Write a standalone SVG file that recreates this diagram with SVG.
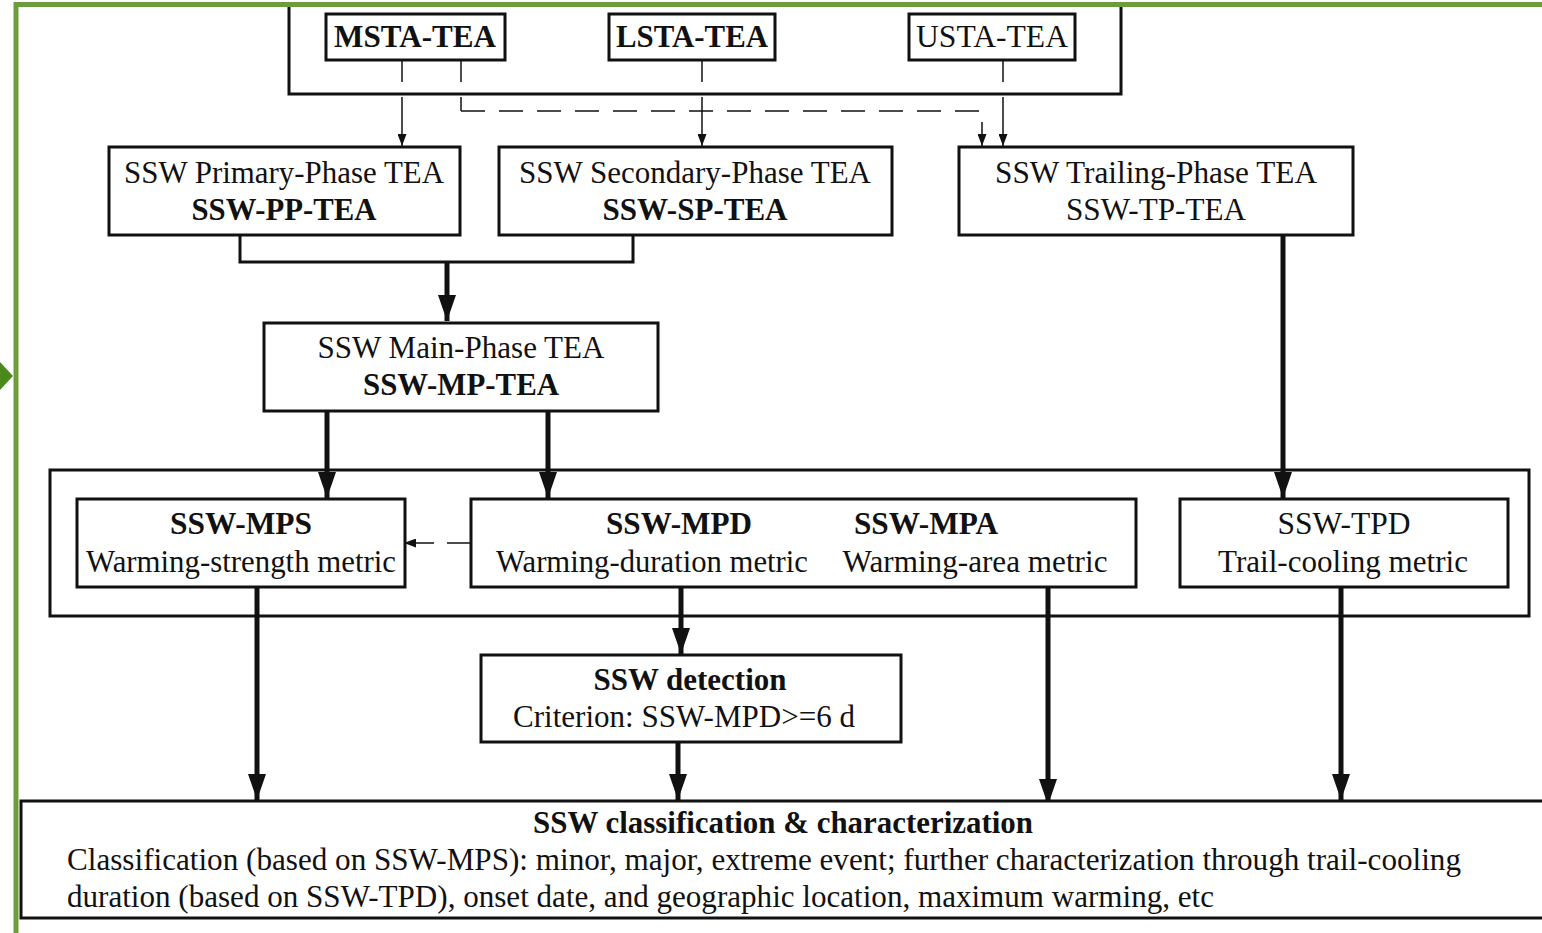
<svg xmlns="http://www.w3.org/2000/svg" width="1542" height="933" viewBox="0 0 1542 933">
<style>
.bx{fill:#fff;stroke:#111;stroke-width:3}
.frame{fill:none;stroke:#111;stroke-width:3}
.t{font-size:31px;fill:#111}
.b{font-weight:bold}
.thin{fill:none;stroke:#111;stroke-width:1.5}
.dash{fill:none;stroke:#111;stroke-width:1.5;stroke-dasharray:24 14}
.thick{fill:none;stroke:#111;stroke-width:5}
.mid{fill:none;stroke:#111;stroke-width:3}
</style>
<defs>
<marker id="big" markerUnits="userSpaceOnUse" markerWidth="26" markerHeight="18" refX="26" refY="9" orient="auto" viewBox="0 0 26 18"><path d="M0,0 L26,9 L0,18 z" fill="#111"/></marker>
<marker id="small" markerUnits="userSpaceOnUse" markerWidth="12" markerHeight="9" refX="12" refY="4.5" orient="auto" viewBox="0 0 12 9"><path d="M0,0 L12,4.5 L0,9 z" fill="#111"/></marker>
</defs>
<rect width="1542" height="933" fill="#fff"/>
<g id="green-frame">
<path d="M16,933 V4.5 H1542" fill="none" stroke="#6c9c3c" stroke-width="5"/>
<polygon points="0,362 13,376 0,390" fill="#4a8a1a"/>
</g>
<g id="input-group">
<path class="frame" d="M289,7 V94 H1121 V7"/>
</g>
<g id="container">
<rect class="frame" x="50" y="470" width="1479" height="146"/>
</g>
<g id="connectors">
<path class="thin" d="M402,60 V82"/>
<path class="thin" d="M402,97 V146" marker-end="url(#small)"/>
<path class="thin" d="M461,60 V82"/>
<path class="thin" d="M461,97 V111"/>
<path class="dash" d="M461,111 H982 V146" marker-end="url(#small)"/>
<path class="thin" d="M702,60 V82"/>
<path class="thin" d="M702,97 V146" marker-end="url(#small)"/>
<path class="thin" d="M1003,60 V82"/>
<path class="thin" d="M1003,97 V146" marker-end="url(#small)"/>
<path class="mid" d="M240,235 V262 H633 V235"/>
<path class="thick" d="M447,262 V321" marker-end="url(#big)"/>
<path class="thick" d="M1283,235 V498" marker-end="url(#big)"/>
<path class="thick" d="M327,411 V498" marker-end="url(#big)"/>
<path class="thick" d="M548,411 V498" marker-end="url(#big)"/>
<path class="thin" d="M471,543 H447"/>
<path class="thin" d="M434,543 H404" marker-end="url(#small)"/>
<path class="thick" d="M257,587 V800" marker-end="url(#big)"/>
<path class="thick" d="M681,587 V654" marker-end="url(#big)"/>
<path class="thick" d="M1048,587 V805" marker-end="url(#big)"/>
<path class="thick" d="M1341,587 V800" marker-end="url(#big)"/>
<path class="thick" d="M678,742 V800" marker-end="url(#big)"/>
</g>
<g font-family="'Liberation Serif', 'Times New Roman', 'DejaVu Serif', serif">
<g id="msta">
<rect class="bx" x="326" y="14" width="179" height="46"/>
<text class="t b" x="415" y="47" text-anchor="middle" textLength="162" lengthAdjust="spacingAndGlyphs">MSTA-TEA</text>
</g>
<g id="lsta">
<rect class="bx" x="609" y="14" width="166" height="46"/>
<text class="t b" x="692" y="47" text-anchor="middle" textLength="152" lengthAdjust="spacingAndGlyphs">LSTA-TEA</text>
</g>
<g id="usta">
<rect class="bx" x="909" y="14" width="166" height="46"/>
<text class="t" x="992" y="47" text-anchor="middle" textLength="152" lengthAdjust="spacingAndGlyphs">USTA-TEA</text>
</g>
<g id="pp">
<rect class="bx" x="109" y="147" width="351" height="88"/>
<text class="t" x="284" y="183" text-anchor="middle" textLength="320" lengthAdjust="spacingAndGlyphs">SSW Primary-Phase TEA</text>
<text class="t b" x="284" y="220" text-anchor="middle" textLength="185" lengthAdjust="spacingAndGlyphs">SSW-PP-TEA</text>
</g>
<g id="sp">
<rect class="bx" x="499" y="147" width="393" height="88"/>
<text class="t" x="695" y="183" text-anchor="middle" textLength="352" lengthAdjust="spacingAndGlyphs">SSW Secondary-Phase TEA</text>
<text class="t b" x="695" y="220" text-anchor="middle" textLength="185" lengthAdjust="spacingAndGlyphs">SSW-SP-TEA</text>
</g>
<g id="tp">
<rect class="bx" x="959" y="147" width="394" height="88"/>
<text class="t" x="1156" y="183" text-anchor="middle" textLength="322" lengthAdjust="spacingAndGlyphs">SSW Trailing-Phase TEA</text>
<text class="t" x="1156" y="220" text-anchor="middle" textLength="180" lengthAdjust="spacingAndGlyphs">SSW-TP-TEA</text>
</g>
<g id="mp">
<rect class="bx" x="264" y="323" width="394" height="88"/>
<text class="t" x="461" y="358" text-anchor="middle" textLength="287" lengthAdjust="spacingAndGlyphs">SSW Main-Phase TEA</text>
<text class="t b" x="461" y="395" text-anchor="middle" textLength="196" lengthAdjust="spacingAndGlyphs">SSW-MP-TEA</text>
</g>
<g id="mps">
<rect class="bx" x="77" y="499" width="328" height="88"/>
<text class="t b" x="241" y="534" text-anchor="middle" textLength="142" lengthAdjust="spacingAndGlyphs">SSW-MPS</text>
<text class="t" x="241" y="572" text-anchor="middle" textLength="310" lengthAdjust="spacingAndGlyphs">Warming-strength metric</text>
</g>
<g id="mpd-mpa">
<rect class="bx" x="471" y="499" width="665" height="88"/>
<text class="t b" x="679" y="534" text-anchor="middle" textLength="146" lengthAdjust="spacingAndGlyphs">SSW-MPD</text>
<text class="t b" x="926" y="534" text-anchor="middle" textLength="144" lengthAdjust="spacingAndGlyphs">SSW-MPA</text>
<text class="t" x="652" y="572" text-anchor="middle" textLength="312" lengthAdjust="spacingAndGlyphs">Warming-duration metric</text>
<text class="t" x="975" y="572" text-anchor="middle" textLength="265" lengthAdjust="spacingAndGlyphs">Warming-area metric</text>
</g>
<g id="tpd">
<rect class="bx" x="1180" y="499" width="328" height="88"/>
<text class="t" x="1344" y="534" text-anchor="middle" textLength="133" lengthAdjust="spacingAndGlyphs">SSW-TPD</text>
<text class="t" x="1343" y="572" text-anchor="middle" textLength="250" lengthAdjust="spacingAndGlyphs">Trail-cooling metric</text>
</g>
<g id="detection">
<rect class="bx" x="481" y="655" width="420" height="87"/>
<text class="t b" x="690" y="690" text-anchor="middle" textLength="193" lengthAdjust="spacingAndGlyphs">SSW detection</text>
<text class="t" x="684" y="727" text-anchor="middle" textLength="342" lengthAdjust="spacingAndGlyphs">Criterion: SSW-MPD&gt;=6 d</text>
</g>
<g id="classification">
<rect class="bx" x="21" y="801" width="1530" height="117"/>
<text class="t b" x="783" y="833" text-anchor="middle" textLength="500" lengthAdjust="spacingAndGlyphs">SSW classification &amp; characterization</text>
<text class="t" x="67" y="870" textLength="1394" lengthAdjust="spacingAndGlyphs">Classification (based on SSW-MPS): minor, major, extreme event; further characterization through trail-cooling</text>
<text class="t" x="67" y="907" textLength="1147" lengthAdjust="spacingAndGlyphs">duration (based on SSW-TPD), onset date, and geographic location, maximum warming, etc</text>
</g>
</g>
</svg>
